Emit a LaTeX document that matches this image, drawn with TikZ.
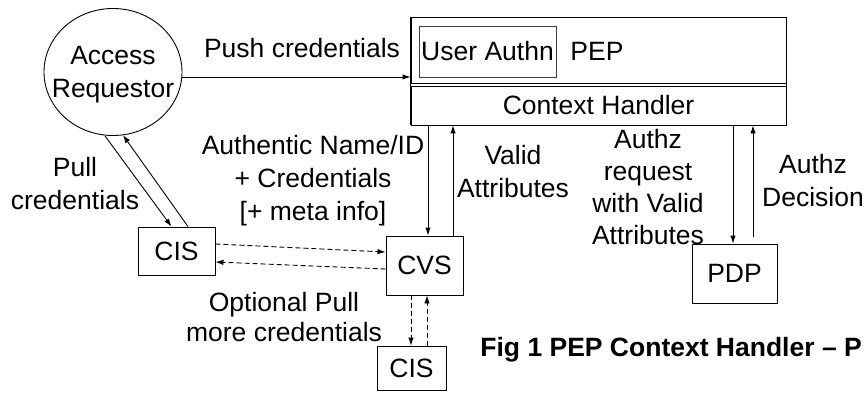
\documentclass[tikz,border=0pt]{standalone}
\usepackage{fontspec}
\setmainfont{Liberation Sans}
\usetikzlibrary{arrows.meta,shapes.geometric}
\begin{document}
\begin{tikzpicture}[x=1pt,y=-1pt,
  every node/.style={font=\fontsize{26.5}{33}\selectfont, inner sep=0pt},
  box/.style={draw, line width=0.9pt, rectangle},
  lbl/.style={align=center},
  arr/.style={line width=0.9pt, -{Latex[length=8pt,width=5.5pt]}},
  darr/.style={arr, dash pattern=on 5pt off 3pt}]
\clip (0,0) rectangle (865,393);
\fill[white] (0,0) rectangle (865,393);
% nodes
\node[draw, line width=0.9pt, ellipse, minimum width=138pt, minimum height=127pt] (ar) at (113,72) {};
\node[lbl] (artxt) at (113,75) {Access\\Requestor};
\node[box, minimum width=375pt, minimum height=66pt] (pep) at (598.5,50) {};
\node[box, minimum width=375pt, minimum height=39pt] (ctx) at (598.5,105.5) {Context Handler};
\draw[line width=0.9pt] (pep.north west) -- (ctx.south west);
\draw[line width=0.9pt] (pep.north east) -- (ctx.south east);
\node[box, draw=black!75, minimum width=137pt, minimum height=51pt] (ua) at (487.5,51.5) {User Authn};
\node (peptxt) at (597,51) {PEP};
\node[box, minimum width=77pt, minimum height=48pt] (cis1) at (176.5,251) {CIS};
\node[box, minimum width=77pt, minimum height=59pt] (cvs) at (424.5,265.5) {CVS};
\node[box, minimum width=69pt, minimum height=44pt] (cis2) at (411.5,368) {CIS};
\node[box, minimum width=85pt, minimum height=59pt] (pdp) at (734.5,273.5) {PDP};
% helper x positions
\coordinate (x411) at (411,0);
\coordinate (x427) at (427,0);
\coordinate (x428) at (428,0);
\coordinate (x453) at (453,0);
\coordinate (x733) at (733,0);
\coordinate (x753) at (753,0);
% connectors
\draw[arr] ([yshift=-5pt]ar.east) -- ([yshift=-5pt]ar.east -| pep.west);
\draw[arr] ([xshift=-8pt]ar.south) -- ([xshift=-5pt]cis1.north);
\draw[arr] ([xshift=11.5pt]cis1.north) -- ([xshift=10pt,yshift=0.8pt]ar.south);
\draw[darr] ([yshift=7pt]cis1.east) -- ([yshift=13.5pt]cvs.west);
\draw[darr] ([yshift=-3.5pt]cvs.west) -- ([yshift=-11pt]cis1.east);
\draw[arr] (ctx.south -| x428) -- (cvs.north -| x428);
\draw[arr] (cvs.north -| x453) -- (ctx.south -| x453);
\draw[arr] (ctx.south -| x733) -- (pdp.north -| x733);
\draw[arr] ([yshift=7pt]pdp.north -| x753) -- (ctx.south -| x753);
\draw[darr] (cvs.south -| x411) -- (cis2.north -| x411);
\draw[darr] (cis2.north -| x427) -- (cvs.south -| x427);
% labels
\node (lpush) at (302,48) {Push credentials};
\node[lbl] (lpull) at (75,184) {Pull\\credentials};
\node[lbl] (lauth) at (313,181) {Authentic Name/ID\\+ Credentials\\{}[+ meta info]};
\node[lbl] (lvalid) at (513,171.5) {Valid\\Attributes};
\node[lbl, font=\fontsize{26.5}{32.3}\selectfont] (lreq) at (648,187) {Authz\\request\\with Valid\\Attributes};
\node[lbl] (ldec) at (813,181) {Authz\\Decision};
\node[lbl, font=\fontsize{26.5}{30}\selectfont] (lopt) at (284,317) {Optional Pull\\more credentials};
\node[anchor=east, font=\fontsize{26.5}{32}\selectfont\bfseries] (cap) at (862,350) {Fig 1 PEP Context Handler – P};
\end{tikzpicture}
\end{document}
